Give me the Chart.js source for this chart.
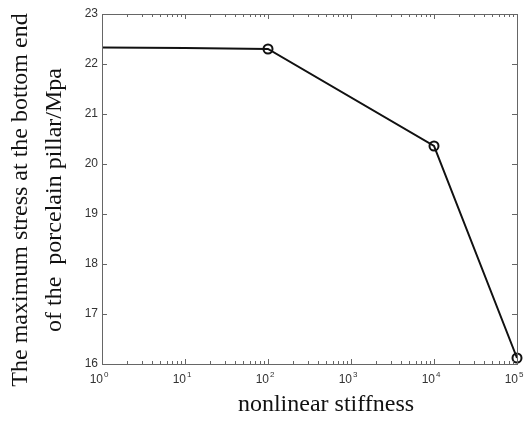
<!DOCTYPE html>
<html>
<head>
<meta charset="utf-8">
<script src="https://cdn.jsdelivr.net/npm/chart.js@4.4.1/dist/chart.umd.min.js"></script>
<style>
  html, body { margin: 0; padding: 0; background: #fff; }
  #wrap { width: 526px; height: 425px; position: relative; }
</style>
</head>
<body>
<div id="wrap"><canvas id="c" width="526" height="425"></canvas></div>
<script>
// data
const stiffness = [1, 10, 100, 10000, 100000];
const maxStress = [22.33, 22.32, 22.3, 20.36, 16.12];
const showMarker = [false, false, true, true, true];
const yTicks = [16, 17, 18, 19, 20, 21, 22, 23];
const xExponents = [0, 1, 2, 3, 4, 5];

const AXIS = '#666';
const TXT = '#333';

// box, inward ticks and labels (matlab look)
const frame = {
  id: 'frame',
  afterDatasetsDraw(chart) {
    const { ctx, chartArea: a, scales: { x, y } } = chart;
    ctx.save();
    ctx.strokeStyle = AXIS;
    ctx.lineWidth = 1;
    ctx.strokeRect(a.left + 0.5, a.top + 0.5, a.right - a.left, a.bottom - a.top);

    ctx.beginPath();
    // x ticks, major and minor
    xExponents.forEach((e, i) => {
      const px = Math.round(x.getPixelForValue(Math.pow(10, e))) + 0.5;
      ctx.moveTo(px, a.bottom); ctx.lineTo(px, a.bottom - 5);
      ctx.moveTo(px, a.top); ctx.lineTo(px, a.top + 5);
      if (i < xExponents.length - 1) {
        for (let m = 2; m <= 9; m++) {
          const mx = Math.round(x.getPixelForValue(m * Math.pow(10, e))) + 0.5;
          ctx.moveTo(mx, a.bottom); ctx.lineTo(mx, a.bottom - 3);
          ctx.moveTo(mx, a.top); ctx.lineTo(mx, a.top + 3);
        }
      }
    });
    // y ticks
    yTicks.forEach(v => {
      const py = Math.round(y.getPixelForValue(v)) + 0.5;
      ctx.moveTo(a.left, py); ctx.lineTo(a.left + 5, py);
      ctx.moveTo(a.right, py); ctx.lineTo(a.right - 5, py);
    });
    ctx.stroke();

    // tick labels
    ctx.fillStyle = TXT;
    ctx.font = '12px "Liberation Sans", Arial, sans-serif';
    ctx.textAlign = 'right';
    ctx.textBaseline = 'middle';
    yTicks.forEach(v => {
      ctx.fillText(String(v), a.left - 4, y.getPixelForValue(v));
    });
    xExponents.forEach(e => {
      const px = x.getPixelForValue(Math.pow(10, e));
      ctx.font = '12px "Liberation Sans", Arial, sans-serif';
      ctx.textAlign = 'right';
      ctx.textBaseline = 'alphabetic';
      ctx.fillText('10', px + 1, a.bottom + 19);
      ctx.font = '8px "Liberation Sans", Arial, sans-serif';
      ctx.textAlign = 'left';
      ctx.fillText(String(e), px + 2, a.bottom + 13);
    });

    // axis titles
    ctx.fillStyle = '#111';
    ctx.font = '24px "Liberation Serif", "Times New Roman", serif';
    ctx.textAlign = 'center';
    ctx.textBaseline = 'middle';
    ctx.fillText('nonlinear stiffness', 326, 405);

    ctx.save();
    ctx.translate(21, 200);
    ctx.rotate(-Math.PI / 2);
    ctx.fillText('The maximum stress at the bottom end', 0, 0);
    ctx.restore();
    ctx.save();
    ctx.translate(55, 200);
    ctx.rotate(-Math.PI / 2);
    ctx.fillText('of the  porcelain pillar/Mpa', 0, 0);
    ctx.restore();
    ctx.restore();
  }
};

new Chart(document.getElementById('c'), {
  type: 'line',
  data: {
    datasets: [{
      data: stiffness.map((s, i) => ({ x: s, y: maxStress[i] })),
      borderColor: '#111',
      borderWidth: 2,
      tension: 0,
      fill: false,
      clip: false,
      pointStyle: 'circle',
      pointRadius: showMarker.map(m => m ? 4.5 : 0),
      pointBorderWidth: 2,
      pointBorderColor: '#111',
      pointBackgroundColor: 'rgba(255,255,255,0)'
    }]
  },
  options: {
    responsive: false,
    animation: false,
    events: [],
    layout: { padding: { left: 102, top: 14, right: 9, bottom: 61 } },
    plugins: { legend: { display: false }, tooltip: { enabled: false } },
    scales: {
      x: {
        type: 'logarithmic',
        min: 1,
        max: 100000,
        ticks: { display: false },
        grid: { display: false },
        border: { display: false },
        afterFit(scale) { scale.height = 0; }
      },
      y: {
        min: 16,
        max: 23,
        ticks: { display: false },
        grid: { display: false },
        border: { display: false },
        afterFit(scale) { scale.width = 0; }
      }
    }
  },
  plugins: [frame]
});
</script>
</body>
</html>
